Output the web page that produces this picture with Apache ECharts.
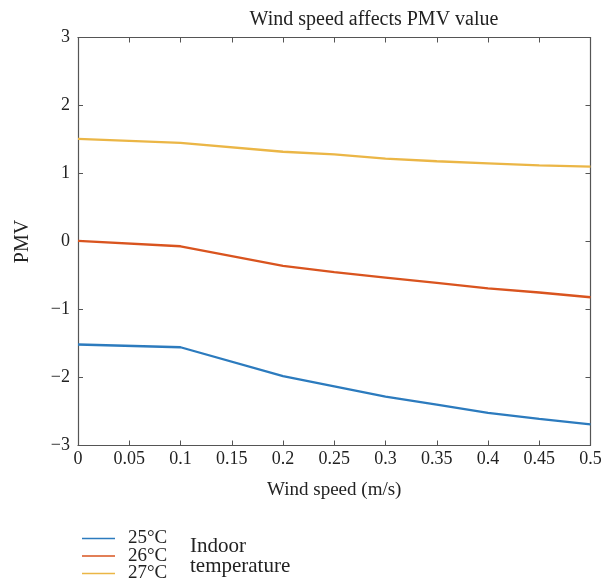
<!DOCTYPE html>
<html>
<head>
<meta charset="utf-8">
<script src="https://cdn.jsdelivr.net/npm/echarts@6/dist/echarts.min.js"></script>
<style>
  html, body { margin: 0; padding: 0; background: #fff; }
  #chart { width: 605px; height: 588px; }
</style>
</head>
<body>
<div id="chart"></div>
<script>
// wind speed (m/s)
var windSpeed = [0, 0.1, 0.2, 0.25, 0.3, 0.35, 0.4, 0.45, 0.5];
// PMV per indoor temperature
var pmv25 = [-1.515, -1.555, -1.98, -2.13, -2.28, -2.40, -2.52, -2.61, -2.69];
var pmv26 = [0.01, -0.07, -0.36, -0.45, -0.53, -0.61, -0.69, -0.75, -0.82];
var pmv27 = [1.51, 1.45, 1.32, 1.28, 1.22, 1.18, 1.15, 1.12, 1.10];
var seriesNames = ['25°C', '26°C', '27°C'];
var colors = ['#2C7BBE', '#D9541F', '#EBB646'];

var font = '"Liberation Serif", "DejaVu Serif", serif';

function pairs(xs, ys) {
    return xs.map(function (x, i) { return [x, ys[i]]; });
}

// box frame: every axis draws its line with inward ticks
function axis(extra) {
    return Object.assign({
        axisLine: { show: true, onZero: false, lineStyle: { color: '#555', width: 1.2 } },
        axisTick: { show: true, inside: true, length: 5, lineStyle: { color: '#555' } },
        splitLine: { show: false }
    }, extra);
}

var chart = echarts.init(document.getElementById('chart'));

var option = {
    animation: false,
    color: colors,
    textStyle: { fontFamily: font },
    title: {
        text: 'Wind speed affects PMV value',
        left: 369, top: 5, textAlign: 'center',
        textStyle: { fontFamily: font, fontWeight: 'normal', fontSize: 20, color: '#222' }
    },
    grid: { left: 78, right: 14.5, top: 37.5, bottom: 142.5 },
    legend: {
        orient: 'vertical',
        left: 82, top: 529, padding: 0,
        itemWidth: 33, itemHeight: 17.5, itemGap: -1.5,
        icon: 'path://M0,0H20V1H0Z',
        data: seriesNames,
        textStyle: { fontFamily: font, fontSize: 19, lineHeight: 17.5, color: '#222', padding: [0, 0, 0, 8] }
    },
    graphic: [{
        type: 'text', left: 190, top: 536,
        style: { text: 'Indoor\ntemperature', font: '21px ' + font, fill: '#222', lineHeight: 20 }
    }],
    xAxis: [
        axis({
            type: 'value', min: 0, max: 0.5, interval: 0.05, position: 'bottom',
            name: 'Wind speed (m/s)', nameLocation: 'middle', nameGap: 35,
            nameTextStyle: { fontFamily: font, fontSize: 19, color: '#222' },
            axisLabel: { fontFamily: font, fontSize: 18, color: '#222', margin: 5 }
        }),
        axis({
            type: 'value', min: 0, max: 0.5, interval: 0.05, position: 'top',
            axisLabel: { show: false }
        })
    ],
    yAxis: [
        axis({
            type: 'value', min: -3, max: 3, interval: 1, position: 'left',
            name: 'PMV', nameLocation: 'middle', nameGap: 45, nameRotate: 90,
            nameTextStyle: { fontFamily: font, fontSize: 20, color: '#222' },
            axisLabel: {
                fontFamily: font, fontSize: 18, color: '#222', margin: 8,
                formatter: function (v) { return String(v).replace('-', '\u2212'); }
            }
        }),
        axis({
            type: 'value', min: -3, max: 3, interval: 1, position: 'right',
            axisLabel: { show: false }
        })
    ],
    series: [
        { name: seriesNames[0], type: 'line', data: pairs(windSpeed, pmv25) },
        { name: seriesNames[1], type: 'line', data: pairs(windSpeed, pmv26) },
        { name: seriesNames[2], type: 'line', data: pairs(windSpeed, pmv27) }
    ].map(function (s) {
        s.symbol = 'none';
        s.lineStyle = { width: 2.3 };
        return s;
    })
};
chart.setOption(option);
</script>
</body>
</html>
